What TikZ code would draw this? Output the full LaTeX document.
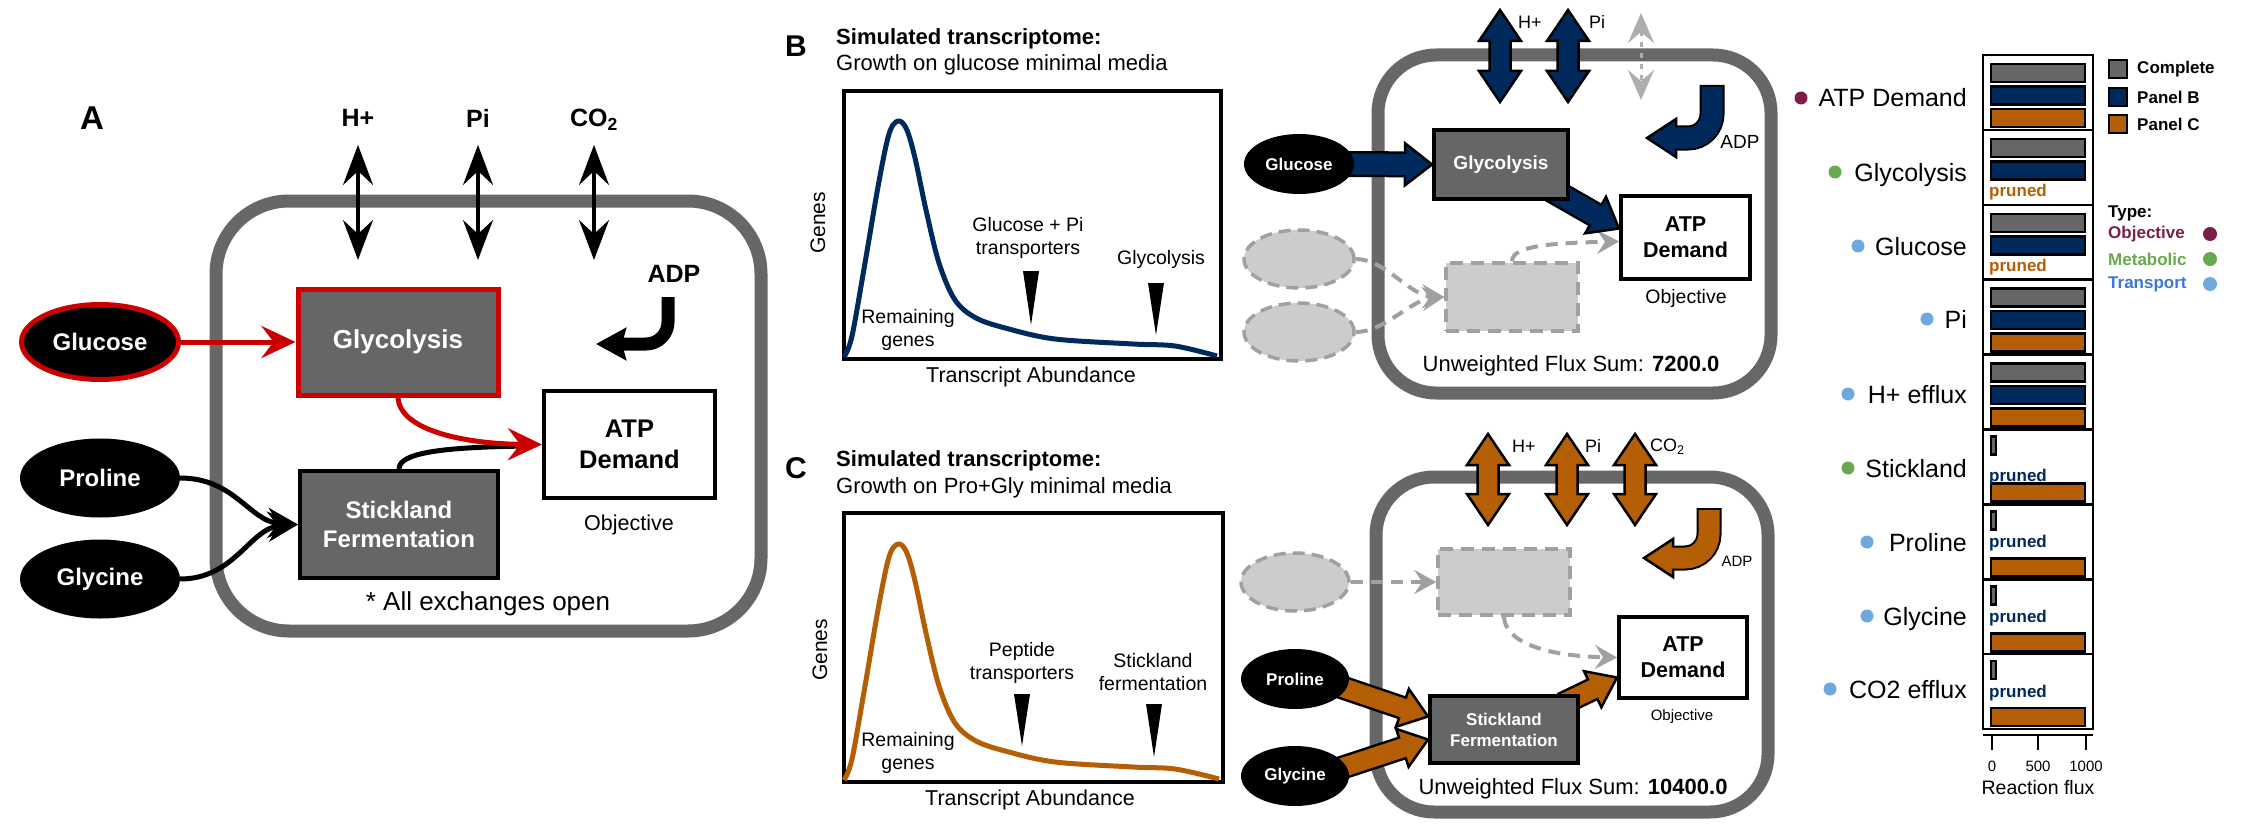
\documentclass[tikz,border=0pt]{standalone}
\usepackage{fontspec}
\setmainfont{Liberation Sans}
\usetikzlibrary{shapes.geometric,arrows.meta,calc}
\pgfdeclarelayer{back}
\pgfdeclarelayer{mid}
\pgfsetlayers{back,mid,main}
\definecolor{navy}{HTML}{002A5C}
\definecolor{orng}{HTML}{B45F06}
\definecolor{boxgray}{HTML}{666666}
\definecolor{cellgray}{HTML}{676767}
\definecolor{ghostfill}{HTML}{CCCCCC}
\definecolor{ghostline}{HTML}{A0A0A0}
\definecolor{redA}{HTML}{CC0000}
\definecolor{objc}{HTML}{7B1E4A}
\definecolor{metc}{HTML}{6AA84F}
\definecolor{trdot}{HTML}{6FA8DC}
\definecolor{trtxt}{HTML}{3C78D8}
\newcommand\fsz[2]{\fontsize{#1}{#2}\selectfont}
% fat straight arrow: #1 colour, #2 start, #3 tip, #4 outline width, #5 shaft width, #6 head half width
\newcommand\fatarrow[6]{%
  \coordinate (fac) at ($(#3)!27pt!(#2)$);
  \coordinate (fad) at ($(#3)!24pt!(#2)$);
  \draw[line width=#4] (#2) -- (fac);
  \filldraw[fill=#1, draw=black, line width=2.5pt, line join=miter] (#3) -- ($(fac)!#6!90:(#3)$) -- ($(fac)!#6!-90:(#3)$) -- cycle;
  \draw[#1, line width=#5] (#2) -- (fad);}
% double exchange arrow: #1 colour, #2 x, #3 top, #4 bottom
\newcommand\xarrow[4]{%
  \filldraw[fill=#1, draw=black, line width=2.5pt, line join=miter]
   (#2,#3) -- ({#2+21},{#3+31}) -- ({#2+10.5},{#3+31}) -- ({#2+10.5},{#4-31}) -- ({#2+21},{#4-31}) -- (#2,#4)
   -- ({#2-21},{#4-31}) -- ({#2-10.5},{#4-31}) -- ({#2-10.5},{#3+31}) -- ({#2-21},{#3+31}) -- cycle;}
% bent fat arrow: #1 colour, #2 x, #3 top, #4 y of horizontal, #5 head base x, #6 tip x
\newcommand\bentarrow[6]{%
  \draw[line width=25pt, rounded corners=24pt] (#2,{#3-2}) |- (#5,#4);
  \filldraw[fill=#1, draw=black, line width=2.5pt, line join=miter] (#6,#4) -- (#5,{#4-19}) -- (#5,{#4+19}) -- cycle;
  \draw[#1, line width=21pt, rounded corners=24pt] (#2,#3) |- ({#5-3},#4);}
\tikzset{
  every node/.style={inner sep=0pt},
  cellwall/.style={draw=cellgray, line width=13pt},
  metab/.style={ellipse, fill=black, text=white},
  rxnbox/.style={rectangle, fill=boxgray, draw=black, line width=4pt, text=white, align=center},
  atpbox/.style={rectangle, fill=white, draw=black, line width=4pt, align=center},
  ghostell/.style={ellipse, fill=ghostfill, draw=ghostline, line width=3.5pt, dash pattern=on 12pt off 7pt},
  ghostbox/.style={rectangle, fill=ghostfill, draw=ghostline, line width=3.5pt, dash pattern=on 13pt off 8pt},
  ghostlink/.style={draw=ghostline, line width=4pt, dash pattern=on 12pt off 8pt, -{Stealth[length=22pt,width=24pt,inset=8pt]}},
  blackx/.style={line width=3.5pt, {Stealth[length=40pt,width=30pt,inset=14pt]}-{Stealth[length=40pt,width=30pt,inset=14pt]}},
  flowA/.style={line width=5pt, -{Stealth[length=34pt,width=32pt,inset=12pt]}},
  panellbl/.style={font=\fsz{30}{36}\bfseries},
  legsq/.style={rectangle, draw=black, line width=2.5pt, minimum width=18pt, minimum height=18pt},
  barfr/.style={draw=black, line width=2.5pt},
}
\begin{document}
\begin{tikzpicture}[x=1pt,y=-1pt]
\begin{pgfonlayer}{back}
\fill[white] (0,0) rectangle (2250,824);
\end{pgfonlayer}
\useasboundingbox (0,0) rectangle (2250,824);

%================ PANEL A ================
\node[font=\fsz{33}{40}\bfseries] (lblA) at (92,118) {A};
\node[font=\fsz{25}{30}\bfseries] (hA) at (358,118) {H+};
\node[font=\fsz{25}{30}\bfseries] (piA) at (478,118) {Pi};
\node[font=\fsz{25}{30}\bfseries] (coA) at (594,120) {CO\textsubscript{2}};
\coordinate (hAt) at (358,145); \coordinate (hAb) at (358,260);
\coordinate (piAt) at (478,145); \coordinate (piAb) at (478,260);
\coordinate (coAt) at (594,145); \coordinate (coAb) at (594,260);

\node[metab, draw=redA, line width=5pt, minimum width=157pt, minimum height=75pt, font=\fsz{24}{28}\bfseries] (glcA) at (100,342) {Glucose};
\node[rxnbox, draw=redA, line width=5pt, minimum width=200pt, minimum height=106pt, font=\fsz{26}{31}\bfseries] (glyA) at (398,342) {Glycolysis};
\node[atpbox, minimum width=171pt, minimum height=107pt, font=\fsz{25.5}{31}\bfseries] (atpA) at (629.5,444.5) {ATP\\Demand};
\node[font=\fsz{21.5}{26}] (objA) at (629,525) {Objective};
\node[metab, minimum width=160pt, minimum height=79pt, font=\fsz{24}{28}\bfseries] (proA) at (100,478) {Proline};
\node[metab, minimum width=160pt, minimum height=79pt, font=\fsz{24}{28}\bfseries] (glciA) at (100,579) {Glycine};
\node[rxnbox, minimum width=198pt, minimum height=107pt, font=\fsz{24}{29}\bfseries] (stkA) at (399,524.5) {Stickland\\Fermentation};
\node[font=\fsz{26}{31}] (allx) at (488,604) {* All exchanges open};
\node[font=\fsz{25}{30}\bfseries] (adpA) at (674,274) {ADP};
\coordinate (adpAs) at (668,297); \coordinate (adpAe) at (596,344);

\begin{pgfonlayer}{back}
  \draw[cellwall, rounded corners=73pt] (216,201) rectangle (761,631);
\end{pgfonlayer}
\begin{pgfonlayer}{mid}
  \draw[blackx] (hAt) -- (hAb);
  \draw[blackx] (piAt) -- (piAb);
  \draw[blackx] (coAt) -- (coAb);
  \draw[redA, flowA] (glcA) -- (glyA);
  \draw[line width=5pt] (stkA.north) .. controls (399,453) and (440,447) .. (530,446);
  \draw[redA, flowA] (glyA.south) .. controls (400,432) and (470,444) .. (atpA.west);
  \draw[line width=5pt, -{Stealth[length=30pt,width=30pt,inset=10pt]}] (proA.east) .. controls (235,478) and (250,522) .. (stkA.west);
  \draw[line width=5pt, -{Stealth[length=30pt,width=30pt,inset=10pt]}] (glciA.east) .. controls (235,579) and (250,528) .. (stkA.west);
  \draw[line width=13pt, rounded corners=22pt, -{Stealth[length=30pt,width=32pt,inset=4pt]}] (adpAs) |- (adpAe);
\end{pgfonlayer}

%================ PANEL B (transcriptome) ================
\node[panellbl] (lblB) at (796,46) {B};
\node[anchor=west, font=\fsz{22}{26}\bfseries] (titB) at (836,39) {Simulated transcriptome:};
\node[anchor=west, font=\fsz{22}{26}] (subB) at (836,65) {Growth on glucose minimal media};
\node[draw, line width=4pt, minimum width=377pt, minimum height=268pt, anchor=north west] (plotB) at (842,89) {};
\node[rotate=90, font=\fsz{21}{25}] (genB) at (818,223) {Genes};
\node[font=\fsz{21.5}{26}] (xlB) at (1031,377) {Transcript Abundance};
\draw[navy, line width=5pt, line join=round] plot[smooth, tension=0.55] coordinates {
 (844,357) (852,336) (865,263) (878.5,184) (889,134) (898,121) (906.5,129) (915,158) (926,210) (939,263) (955,300) (976,318) (1007,328.5) (1055,339) (1133,344) (1175,346) (1217,356)};
\node[align=center, font=\fsz{19.5}{23}] (trB) at (1028,238) {Glucose + Pi\\transporters};
\node[font=\fsz{19.5}{23}] (glB) at (1161,259) {Glycolysis};
\node[align=center, font=\fsz{19.5}{23}] (remB) at (908,330) {Remaining\\genes};
\fill (1023,271) -- (1039,271) -- (1031,325) -- cycle;
\fill (1148,283) -- (1164,283) -- (1156,335) -- cycle;

%================ PANEL C (transcriptome) ================
\node[panellbl] (lblC) at (796,468) {C};
\node[anchor=west, font=\fsz{22}{26}\bfseries] (titC) at (836,461) {Simulated transcriptome:};
\node[anchor=west, font=\fsz{22}{26}] (subC) at (836,488) {Growth on Pro+Gly minimal media};
\node[draw, line width=4pt, minimum width=379pt, minimum height=269pt, anchor=north west] (plotC) at (842,511) {};
\node[rotate=90, font=\fsz{21}{25}] (genC) at (820,650) {Genes};
\node[font=\fsz{21.5}{26}] (xlC) at (1030,800) {Transcript Abundance};
\begin{scope}[shift={(0,423)}]
\draw[orng, line width=5pt, line join=round] plot[smooth, tension=0.55] coordinates {
 (844,357) (852,336) (865,263) (878.5,184) (889,134) (898,121) (906.5,129) (915,158) (926,210) (939,263) (955,300) (976,318) (1007,328.5) (1055,339) (1133,344) (1175,346) (1219,356)};
\end{scope}
\node[align=center, font=\fsz{19.5}{23}] (trC) at (1022,663) {Peptide\\transporters};
\node[align=center, font=\fsz{19.5}{23}] (skC) at (1153,672) {Stickland\\fermentation};
\node[align=center, font=\fsz{19.5}{23}] (remC) at (908,753) {Remaining\\genes};
\fill (1014,694) -- (1030,694) -- (1022,746) -- cycle;
\fill (1146,704) -- (1162,704) -- (1154,757) -- cycle;

%================ PANEL B (network) ================
\node[metab, minimum width=110pt, minimum height=60pt, font=\fsz{17}{20}\bfseries] (glcB) at (1299,164) {Glucose};
\node[rxnbox, minimum width=134pt, minimum height=69pt, font=\fsz{19}{23}\bfseries] (glyB) at (1501,164.5) {Glycolysis};
\node[atpbox, minimum width=129pt, minimum height=83pt, font=\fsz{21.5}{26}\bfseries] (atpB) at (1685.5,237.5) {ATP\\Demand};
\node[font=\fsz{19.5}{23}] (objB) at (1686,298) {Objective};
\node[ghostell, minimum width=110pt, minimum height=58pt] (ge1B) at (1299,259) {};
\node[ghostell, minimum width=110pt, minimum height=58pt] (ge2B) at (1299,332) {};
\node[ghostbox, minimum width=132pt, minimum height=68pt] (gboxB) at (1512,297) {};
\node[font=\fsz{22}{26}] (fluxB) at (1571,366) {Unweighted Flux Sum: \textbf{7200.0}};
\node[anchor=west, font=\fsz{18}{22}] (hB) at (1518,22) {H+};
\node[anchor=west, font=\fsz{18}{22}] (piB) at (1589,22) {Pi};
\node[font=\fsz{19}{23}] (adpB) at (1740,142) {ADP};
\coordinate (glcBo) at ($(glcB.east)+(-10,0)$);
\coordinate (glyBo) at ($(glyB.south east)+(-20,-12)$);
\coordinate (atpBi) at ($(atpB.west)+(0,-9)$);
\coordinate (ghBt) at (1641,13); \coordinate (ghBb) at (1641,100);

\begin{pgfonlayer}{back}
  \draw[cellwall, rounded corners=58pt] (1378,55) rectangle (1771,393);
\end{pgfonlayer}
\begin{pgfonlayer}{mid}
  \draw[ghostlink] (ge1B.east) .. controls (1385,259) and (1410,296) .. (gboxB.west);
  \draw[ghostlink] (ge2B.east) .. controls (1385,332) and (1410,300) .. (gboxB.west);
  \draw[ghostlink] (gboxB.north) .. controls (1512,246) and (1550,243) .. ($(atpB.west)+(0,4)$);
  \fatarrow{navy}{glcBo}{glyB.west}{26pt}{21pt}{21pt}
  \fatarrow{navy}{glyBo}{atpBi}{26pt}{21pt}{21pt}
  \xarrow{navy}{1500}{10}{102}
  \xarrow{navy}{1568}{10}{102}
  \draw[ghostline!85, line width=3pt, dash pattern=on 5pt off 6pt, {Stealth[length=30pt,width=26pt,inset=11pt]}-{Stealth[length=30pt,width=26pt,inset=11pt]}] (ghBt) -- (ghBb);
  \bentarrow{navy}{1712}{87}{138}{1676}{1647}
\end{pgfonlayer}

%================ PANEL C (network) ================
\node[ghostell, minimum width=108pt, minimum height=58pt] (geC) at (1295,582) {};
\node[ghostbox, minimum width=132pt, minimum height=66pt] (gboxC) at (1504,582) {};
\node[metab, minimum width=108pt, minimum height=60pt, font=\fsz{17}{20}\bfseries] (proC) at (1295,679) {Proline};
\node[metab, minimum width=108pt, minimum height=60pt, font=\fsz{17}{20}\bfseries] (glciC) at (1295,776) {Glycine};
\node[rxnbox, minimum width=148pt, minimum height=67pt, font=\fsz{17}{21}\bfseries] (stkC) at (1504,729.5) {Stickland\\Fermentation};
\node[atpbox, minimum width=128pt, minimum height=81pt, font=\fsz{21.5}{26}\bfseries] (atpC) at (1683,657.5) {ATP\\Demand};
\node[font=\fsz{15}{18}] (objC) at (1682,717) {Objective};
\node[font=\fsz{22}{26}] (fluxC) at (1573,789) {Unweighted Flux Sum: \textbf{10400.0}};
\node[anchor=west, font=\fsz{18}{22}] (hC) at (1512,446) {H+};
\node[anchor=west, font=\fsz{18}{22}] (piC) at (1585,446) {Pi};
\node[anchor=west, font=\fsz{18}{22}] (coC) at (1650,447) {CO\textsubscript{2}};
\node[font=\fsz{15}{18}] (adpC) at (1737,561) {ADP};
\coordinate (proCo) at ($(proC.center)+(40,6)$);
\coordinate (glcCo) at ($(glciC.center)+(40,-6)$);
\coordinate (stkCa) at ($(stkC.west)+(0,-13)$);
\coordinate (stkCb) at ($(stkC.west)+(0,10)$);
\coordinate (stkCo) at ($(stkC.north east)+(-18,10)$);
\coordinate (atpCi) at ($(atpC.west)+(0,20)$);

\begin{pgfonlayer}{back}
  \draw[cellwall, rounded corners=58pt] (1376,477) rectangle (1768,812);
\end{pgfonlayer}
\begin{pgfonlayer}{mid}
  \draw[ghostlink] (geC.east) -- (gboxC.west);
  \draw[ghostlink] (gboxC.south) .. controls (1505,642) and (1545,656) .. (atpC.west);
  \fatarrow{orng}{proCo}{stkCa}{24pt}{19pt}{20pt}
  \fatarrow{orng}{glcCo}{stkCb}{24pt}{19pt}{20pt}
  \fatarrow{orng}{stkCo}{atpCi}{24pt}{19pt}{20pt}
  \xarrow{orng}{1488}{434}{525}
  \xarrow{orng}{1567}{434}{525}
  \xarrow{orng}{1635}{434}{525}
  \bentarrow{orng}{1709}{510}{558}{1673}{1644}
\end{pgfonlayer}

%================ BAR CHART ================
\foreach \r in {0,...,8}
  \draw[barfr] (1983,{55+\r*74.9}) rectangle (2093,{55+(\r+1)*74.9});
\foreach \r/\s/\c in {0/0/boxgray,0/1/navy,0/2/orng,1/0/boxgray,1/1/navy,2/0/boxgray,2/1/navy,3/0/boxgray,3/1/navy,3/2/orng,4/0/boxgray,4/1/navy,4/2/orng,5/2/orng,6/2/orng,7/2/orng,8/2/orng}
  \draw[barfr, fill=\c] (1991,{55+\r*74.9+9+\s*22.5}) rectangle (2085,{55+\r*74.9+27+\s*22.5});
\foreach \r in {5,...,8}
  \draw[barfr, fill=boxgray] (1991,{55+\r*74.9+7}) rectangle (1996,{55+\r*74.9+25});
\foreach \r/\o/\c in {1/62/orng,2/62/orng,5/48/navy,6/39/navy,7/39/navy,8/39/navy}
  \node[anchor=west, text=\c, font=\fsz{17}{20}\bfseries] (pr\r) at (1989,{55+\r*74.9+\o}) {pruned};
\draw[barfr] (1983,735) -- (2093,735);
\foreach \x in {1992,2038,2086} \draw[barfr] (\x,735) -- (\x,750);
\node[font=\fsz{15}{18}] (tk0) at (1992,766) {0};
\node[font=\fsz{15}{18}] (tk5) at (2038,766) {500};
\node[font=\fsz{15}{18}] (tk10) at (2086,766) {1000};
\node[font=\fsz{19.5}{23}] (axl) at (2038,788) {Reaction flux};

\foreach \t/\b/\dx/\c in {ATP Demand/107/1801/objc, Glycolysis/181/1835/metc, Glucose/255/1858/trdot, Pi/328/1927/trdot, H+ efflux/403/1848/trdot, Stickland/477/1848/metc, Proline/551/1867/trdot, Glycine/625/1867/trdot, CO2 efflux/698/1830/trdot}
{ \node[anchor=base east, font=\fsz{25}{30}] (rl\b) at (1967,\b) {\t};
  \fill[\c] (\dx,\b-9) circle (6.5pt); }

\node[legsq, fill=boxgray] (lg1) at (2118,69) {};
\node[legsq, fill=navy] (lg2) at (2118,97) {};
\node[legsq, fill=orng] (lg3) at (2118,124) {};
\node[anchor=west, font=\fsz{17}{20}\bfseries] (lg1t) at (2137,69) {Complete};
\node[anchor=west, font=\fsz{17}{20}\bfseries] (lg2t) at (2137,97) {Panel B};
\node[anchor=west, font=\fsz{17}{20}\bfseries] (lg3t) at (2137,124) {Panel C};
\node[anchor=west, font=\fsz{17}{20}\bfseries] (typ) at (2108,213) {Type:};
\node[anchor=west, text=objc, font=\fsz{17}{20}\bfseries] (ty1) at (2108,234) {Objective};
\node[anchor=west, text=metc, font=\fsz{17}{20}\bfseries] (ty2) at (2108,259) {Metabolic};
\node[anchor=west, text=trtxt, font=\fsz{17}{20}\bfseries] (ty3) at (2108,284) {Transport};
\fill[objc] (2210,234) circle (7pt);
\fill[metc] (2210,259) circle (7pt);
\fill[trdot] (2210,284) circle (7pt);
\end{tikzpicture}
\end{document}
